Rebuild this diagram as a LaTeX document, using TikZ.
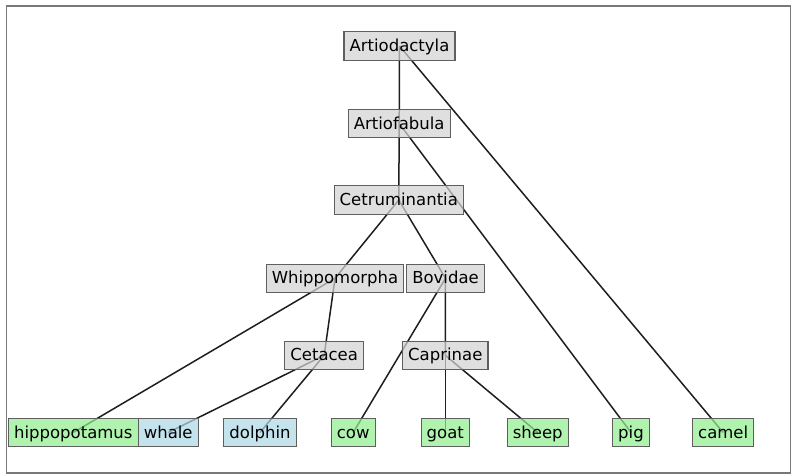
\documentclass[tikz,border=0pt]{standalone}
\usepackage{fontspec}
\setmainfont{DejaVu Sans}
\usetikzlibrary{backgrounds}
\definecolor{boxgray}{RGB}{211,211,211}
\definecolor{boxgreen}{RGB}{144,238,144}
\definecolor{boxblue}{RGB}{173,216,230}
\definecolor{boxedge}{RGB}{95,95,95}
\definecolor{edgecol}{RGB}{30,30,30}
\definecolor{framecol}{RGB}{120,120,120}
\tikzset{
  taxon/.style={draw=boxedge, line width=1.1pt, fill opacity=0.72, text opacity=1,
    inner xsep=5.6pt, inner ysep=0pt, minimum height=28.5pt,
    text height=13pt, text depth=2pt,
    font=\fontsize{16.5}{18}\selectfont, anchor=center},
  inner/.style={taxon, fill=boxgray},
  land/.style={taxon, fill=boxgreen},
  sea/.style={taxon, fill=boxblue},
  link/.style={draw=edgecol, line width=1.5pt}
}
\begin{document}
\begin{tikzpicture}[x=1pt,y=-1pt]
\useasboundingbox (0,0) rectangle (794,475);
\draw[framecol, line width=1.6pt] (6.5,6) rectangle (790.5,473);
\node[inner] (artiodactyla) at (399.5,46) {Artiodactyla};
\node[inner] (artiofabula) at (399.2,123.5) {Artiofabula};
\node[inner] (cetruminantia) at (398.8,200) {Cetruminantia};
\node[inner] (whippomorpha) at (335,278.3) {Whippomorpha};
\node[inner] (bovidae) at (445.5,278.3) {Bovidae};
\node[inner] (cetacea) at (324.2,355.3) {Cetacea};
\node[inner] (caprinae) at (445.3,355.3) {Caprinae};
\node[land] (hippopotamus) at (73.3,432.5) {hippopotamus};
\node[sea] (whale) at (168.2,432.5) {whale};
\node[sea] (dolphin) at (260,432.5) {dolphin};
\node[land] (cow) at (353.2,432.5) {cow};
\node[land] (goat) at (445.3,432.5) {goat};
\node[land] (sheep) at (537.8,432.5) {sheep};
\node[land] (pig) at (631,432.5) {pig};
\node[land] (camel) at (723.2,432.5) {camel};
\begin{scope}[on background layer]
\draw[link] (artiodactyla.center) -- (artiofabula.center);
\draw[link] (artiodactyla.center) -- (camel.center);
\draw[link] (artiofabula.center) -- (cetruminantia.center);
\draw[link] (artiofabula.center) -- (pig.center);
\draw[link] (cetruminantia.center) -- (whippomorpha.center);
\draw[link] (cetruminantia.center) -- (bovidae.center);
\draw[link] (whippomorpha.center) -- (hippopotamus.center);
\draw[link] (whippomorpha.center) -- (cetacea.center);
\draw[link] (cetacea.center) -- (whale.center);
\draw[link] (cetacea.center) -- (dolphin.center);
\draw[link] (bovidae.center) -- (cow.center);
\draw[link] (bovidae.center) -- (caprinae.center);
\draw[link] (caprinae.center) -- (goat.center);
\draw[link] (caprinae.center) -- (sheep.center);
\end{scope}
\end{tikzpicture}
\end{document}
